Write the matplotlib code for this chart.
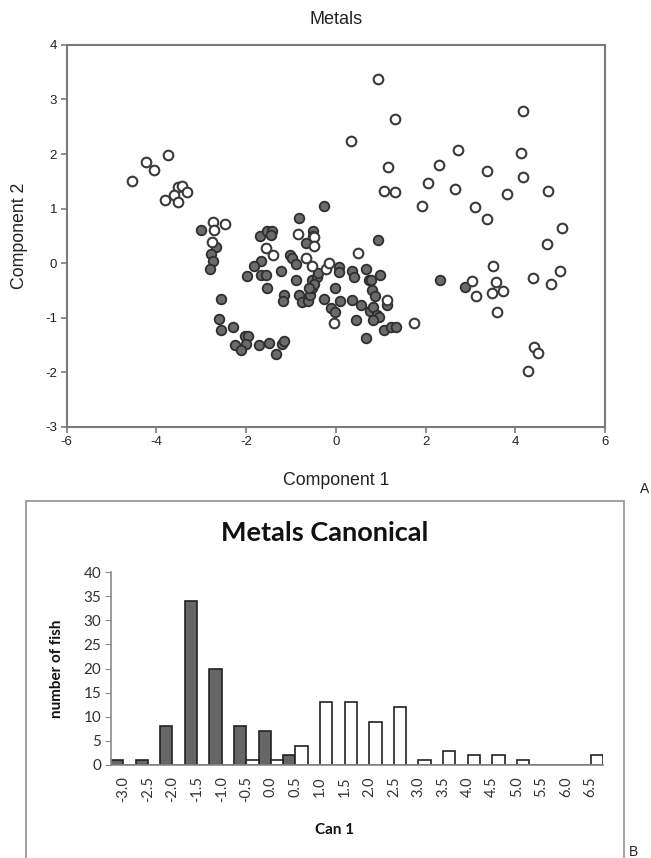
import matplotlib
matplotlib.use("Agg")
import matplotlib.pyplot as plt
from matplotlib.patches import Rectangle
import numpy as np

plt.rcParams["axes.unicode_minus"] = False

# panel A: PCA scores, two groups of fish
dark_x = [-3.0, -2.67, -2.79, -2.73, -2.8, -0.27, -0.83, -1.69, -1.54, -1.43,
          -1.45, -0.52, -0.52, -0.67, -1.02, -0.97, -0.88, -1.66, -1.83, -1.99,
          -1.68, -1.56, -1.23, -1.53, -0.88, -0.82, -1.16, -1.19, -0.76, -0.62,
          -0.58, -0.54, -0.53, -0.43, -0.39, -0.27, -0.02, -0.10, -0.02, 0.07,
          0.07, -2.57, -2.6, -2.55, -2.29, -2.03, -1.95, -2.0, -2.25, -2.12,
          -1.71, -1.49, -1.34, -1.2, -1.15, 0.93, 0.35, 0.41, 0.67, 0.74,
          0.78, 0.98, 0.10, 0.37, 0.57, 0.80, 0.87, 0.76, 0.83, 0.91,
          0.96, 1.15, 0.45, 0.83, 1.08, 1.22, 1.35, 0.68, 2.32, 2.87,
          -0.48, -0.6]
dark_y = [0.60, 0.29, 0.17, 0.03, -0.10, 1.04, 0.82, 0.50, 0.58, 0.58,
          0.52, 0.58, 0.50, 0.37, 0.15, 0.09, -0.02, 0.03, -0.05, -0.24,
          -0.22, -0.22, -0.14, -0.46, -0.31, -0.58, -0.58, -0.70, -0.72, -0.70,
          -0.58, -0.46, -0.31, -0.26, -0.19, -0.65, -0.46, -0.82, -0.90, -0.08,
          -0.17, -0.66, -1.03, -1.23, -1.17, -1.33, -1.33, -1.48, -1.51, -1.59,
          -1.50, -1.46, -1.67, -1.48, -1.42, 0.43, -0.15, -0.26, -0.11, -0.31,
          -0.31, -0.21, -0.69, -0.68, -0.76, -0.49, -0.60, -0.87, -0.80, -0.95,
          -0.98, -0.76, -1.04, -1.04, -1.23, -1.17, -1.18, -1.37, -0.31, -0.43,
          -0.38, -0.45]

open_x = [-4.55, -4.23, -4.05, -3.75, -3.53, -3.44, -3.33, -3.61, -3.82, -3.53,
          -2.75, -2.47, -2.72, -2.77, -0.85, -0.49, -0.49, -1.56, -1.40, -0.67,
          -0.54, -0.23, -0.16, -0.04, 0.50, 1.13, 1.74, 1.91, 3.36, 5.03,
          4.71, 3.51, 3.04, 3.12, 3.58, 3.49, 3.73, 3.60, 4.39, 4.99,
          4.79, 4.41, 4.51, 4.28, 4.17, 2.72, 4.13, 2.30, 3.37, 4.17,
          2.05, 2.65, 3.82, 4.72, 3.10, 0.94, 1.31, 0.33, 1.17, 1.07, 1.31]
open_y = [1.51, 1.85, 1.71, 1.99, 1.40, 1.42, 1.30, 1.24, 1.15, 1.12,
          0.75, 0.72, 0.60, 0.38, 0.54, 0.47, 0.32, 0.28, 0.14, 0.09,
          -0.05, -0.11, 0.0, -1.10, 0.19, -0.68, -1.10, 1.04, 0.80, 0.65,
          0.35, -0.06, -0.33, -0.61, -0.35, -0.55, -0.52, -0.89, -0.27, -0.14,
          -0.39, -1.54, -1.65, -1.98, 2.78, 2.08, 2.02, 1.79, 1.69, 1.58,
          1.46, 1.35, 1.27, 1.32, 1.02, 3.38, 2.65, 2.24, 1.77, 1.33, 1.30]

# panel B: canonical score histogram
bins = ["-3.0", "-2.5", "-2.0", "-1.5", "-1.0", "-0.5", "0.0", "0.5", "1.0", "1.5",
        "2.0", "2.5", "3.0", "3.5", "4.0", "4.5", "5.0", "5.5", "6.0", "6.5"]
group1 = [1, 1, 8, 34, 20, 8, 7, 2, 0, 0, 0, 0, 0, 0, 0, 0, 0, 0, 0, 0]
group2 = [0, 0, 0, 0, 0, 1, 1, 4, 13, 13, 9, 12, 1, 3, 2, 2, 1, 0, 0, 2]

fig = plt.figure(figsize=(6.51, 8.58), dpi=100)
arial = "Liberation Sans"
spine_col = "#7a7a7a"

# ---- A ----
ax = fig.add_axes([0.1025, 0.5027, 0.8269, 0.4449])
ax.scatter(dark_x, dark_y, s=48, c="#6b6b6b", edgecolors="#2e2e2e", linewidths=1.3, zorder=3)
ax.scatter(open_x, open_y, s=48, c="white", edgecolors="#3a3a3a", linewidths=1.5, zorder=3)
ax.set_xlim(-6, 6)
ax.set_ylim(-3, 4)
ax.set_xticks(np.arange(-6, 7, 2))
ax.set_yticks(np.arange(-3, 5, 1))
for s in ax.spines.values():
    s.set_color(spine_col)
    s.set_linewidth(1.5)
ax.tick_params(direction="out", length=4, width=1.2, color=spine_col,
               labelsize=9.5, labelcolor="#222222", pad=3)
for lab in ax.get_xticklabels() + ax.get_yticklabels():
    lab.set_family(arial)

fig.text(336 / 651, 1 - 20 / 858, "Metals", ha="center", va="center",
         family=arial, fontsize=13, color="#222222")
fig.text(336 / 651, 1 - 480 / 858, "Component 1", ha="center", va="center",
         family=arial, fontsize=12.8, color="#222222")
fig.text(20 / 651, 1 - 236 / 858, "Component 2", ha="center", va="center",
         rotation=90, family=arial, fontsize=12.8, color="#222222")
fig.text(645 / 651, 1 - 489 / 858, "A", ha="center", va="center",
         family=arial, fontsize=10, color="#222222")

# ---- B ----
fig.patches.append(Rectangle((26 / 651, -0.01), (624 - 26) / 651, 0.01 + 1 - 501 / 858,
                             transform=fig.transFigure, fill=False,
                             edgecolor="#9a9a9a", linewidth=1.3))

bx = fig.add_axes([0.1705, 0.1084, 0.7557, 0.2249])
pos = np.arange(len(bins))
bx.bar(pos - 0.25, group1, width=0.5, color="#666666", edgecolor="#222222", linewidth=1.2)
bx.bar(pos + 0.25, group2, width=0.5, color="white", edgecolor="#222222", linewidth=1.2)
bx.set_xlim(-0.5, 19.5)
bx.set_ylim(0, 40)
bx.set_yticks(np.arange(0, 41, 5))
bx.set_xticks(pos)
bx.set_xticklabels(bins, rotation=90)
for side in ["top", "right"]:
    bx.spines[side].set_visible(False)
for side in ["left", "bottom"]:
    bx.spines[side].set_color("#8a8a8a")
    bx.spines[side].set_linewidth(1.2)
bx.tick_params(axis="y", direction="out", length=4, color="#8a8a8a",
               labelsize=11, labelcolor="#333333", pad=3)
bx.tick_params(axis="x", length=0, labelsize=10.5, labelcolor="#333333", pad=8)
for lab in bx.get_xticklabels() + bx.get_yticklabels():
    lab.set_family("Lato")

fig.text(325 / 651, 1 - 533 / 858, "Metals Canonical", ha="center", va="center",
         family="Lato", fontweight="bold", fontsize=19.5, color="#111111")
fig.text(57 / 651, 1 - 669 / 858, "number of fish", ha="center", va="center",
         rotation=90, family="Lato", fontweight="bold", fontsize=11, color="#111111")
fig.text(335 / 651, 1 - 830 / 858, "Can 1", ha="center", va="center",
         family="Lato", fontweight="bold", fontsize=11, color="#111111")
fig.text(633 / 651, 1 - 852 / 858, "B", ha="center", va="center",
         family=arial, fontsize=10, color="#222222")

fig.savefig("out.png", dpi=100)
